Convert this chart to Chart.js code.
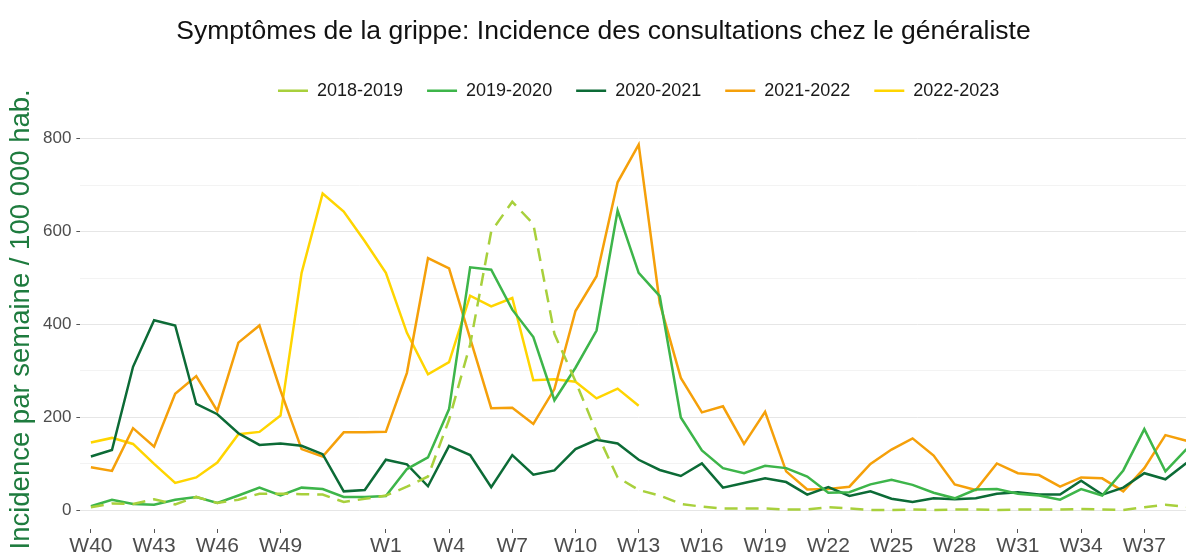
<!DOCTYPE html>
<html>
<head>
<meta charset="utf-8">
<script src="https://cdn.jsdelivr.net/npm/chart.js@4"></script>
<style>
body { margin: 0; background: #fff; overflow: hidden; }
#wrap { width: 1210px; height: 556px; }
</style>
</head>
<body>
<div id="wrap"><canvas id="grippeChart" width="1210" height="556"></canvas></div>
<script>
// weeks of the flu season, W40 -> W39 (with W53)
const weeks = ["W40","W41","W42","W43","W44","W45","W46","W47","W48","W49","W50","W51","W52","W53",
  "W1","W2","W3","W4","W5","W6","W7","W8","W9","W10","W11","W12","W13","W14","W15","W16","W17","W18","W19",
  "W20","W21","W22","W23","W24","W25","W26","W27","W28","W29","W30","W31","W32","W33","W34","W35","W36","W37","W38","W39"];

// weeks that get a label on the x axis
const tickWeeks = ["W40","W43","W46","W49","W1","W4","W7","W10","W13","W16","W19","W22","W25","W28","W31","W34","W37"];

// horizontal grid lines (labelled every 200)
const yTicks = [0, 100, 200, 300, 400, 500, 600, 700, 800];

// incidence per week / 100 000 inhabitants
const s2018 = [7,15,14,24,13,29,16,23,36,36,35,34,18,25,32,51,73,195,357,600,664,616,380,278,168,71,44,32,14,8,4,4,4,2,2,7,4,1,1,2,1,2,2,1,2,2,2,3,2,1,7,12,8];
const s2019 = [9,23,14,12,23,29,16,32,49,32,49,46,29,29,31,89,114,218,523,518,432,373,237,307,387,645,511,461,200,129,91,80,96,91,73,38,39,56,66,55,38,26,45,46,36,32,23,46,32,86,175,84,132];
const s2020 = [116,130,309,409,398,229,207,166,141,144,139,121,41,44,109,99,52,139,119,50,119,77,86,132,152,144,109,87,74,101,49,59,69,61,34,50,31,41,25,18,26,24,26,36,39,34,34,64,34,49,80,67,102];
const s2021 = [93,85,177,137,251,289,214,361,398,258,132,116,168,168,169,296,543,521,370,220,221,186,261,429,504,706,787,446,285,211,224,143,212,84,45,46,51,100,131,155,118,56,44,101,80,76,51,71,69,41,91,162,150];
const s2022 = [146,156,143,100,59,71,103,164,169,204,511,682,643,579,511,382,293,319,462,439,457,280,282,277,241,262,225];

const seasons = ["2018-2019","2019-2020","2020-2021","2021-2022","2022-2023"];
const colors = ["#a8d03c","#3db54a","#0c6b36","#f5a00a","#ffd500"];

const FONT = "'Liberation Sans', Arial, Helvetica, sans-serif";

function serie(i, values, dash) {
  return {
    label: seasons[i],
    data: values,
    borderColor: colors[i],
    backgroundColor: colors[i],
    borderWidth: 2.5,
    borderDash: dash || [],
    pointRadius: 0,
    tension: 0,
    fill: false
  };
}

const ctx = document.getElementById("grippeChart").getContext("2d");

new Chart(ctx, {
  type: "line",
  data: {
    labels: weeks,
    datasets: [
      serie(0, s2018, [13, 8]),
      serie(1, s2019),
      serie(2, s2020),
      serie(3, s2021),
      serie(4, s2022)
    ]
  },
  options: {
    responsive: false,
    animation: false,
    devicePixelRatio: 1,
    layout: { padding: { left: 10, right: 13, top: 0, bottom: -4 } },
    plugins: {
      title: {
        display: true,
        text: "Symptômes de la grippe: Incidence des consultations chez le généraliste",
        color: "#111",
        font: { family: FONT, size: 26.5, weight: "normal" },
        padding: { top: 16, bottom: 10 }
      },
      legend: {
        position: "top",
        fullSize: false,
        labels: {
          usePointStyle: true,
          pointStyle: "line",
          pointStyleWidth: 30,
          boxHeight: 18,
          color: "#1a1a1a",
          font: { family: FONT, size: 18 },
          padding: 24
        }
      },
      tooltip: { enabled: false }
    },
    scales: {
      x: {
        offset: true,
        border: { display: false },
        grid: {
          offset: false,
          drawOnChartArea: false,
          drawTicks: true,
          tickLength: 4,
          tickColor: c => tickWeeks.includes(weeks[c.index]) ? "#555" : "rgba(0,0,0,0)"
        },
        ticks: {
          autoSkip: false,
          maxRotation: 0,
          padding: 3,
          color: "#4d4d4d",
          font: { family: FONT, size: 21, lineHeight: 1.0 },
          callback: (v, i) => tickWeeks.includes(weeks[i]) ? weeks[i] : ""
        }
      },
      y: {
        min: -40,
        max: 862,
        border: { display: false },
        afterBuildTicks: scale => {
          scale.ticks = yTicks.map(v => ({ value: v }));
        },
        grid: {
          color: c => c.tick.value % 200 === 0 ? "#e6e6e6" : "#f3f3f3",
          lineWidth: 1,
          tickLength: 4,
          tickColor: c => c.tick.value % 200 === 0 ? "#555" : "rgba(0,0,0,0)"
        },
        ticks: {
          padding: 5,
          color: "#4d4d4d",
          font: { family: FONT, size: 17 },
          callback: v => v % 200 === 0 ? v : ""
        },
        title: {
          display: true,
          text: "Incidence par semaine / 100 000 hab.",
          color: "#1e7b3e",
          font: { family: FONT, size: 27.5, lineHeight: 0.8 },
          padding: { top: 0, bottom: 6 }
        }
      }
    }
  }
});
</script>
</body>
</html>
